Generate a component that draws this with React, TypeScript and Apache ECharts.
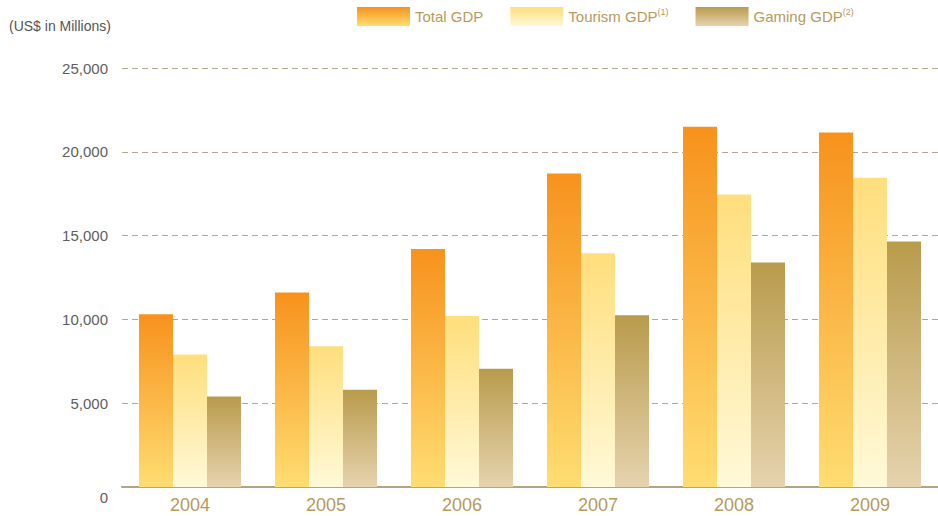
import React, { useEffect, useRef } from "react";
import * as echarts from "echarts";

const years = ["2004", "2005", "2006", "2007", "2008", "2009"];
const totalGDP = [10300, 11600, 14200, 18700, 21500, 21150];
const tourismGDP = [7900, 8400, 10200, 13950, 17450, 18450];
const gamingGDP = [5400, 5800, 7050, 10250, 13400, 14650];
const yTicks = [0, 5000, 10000, 15000, 20000, 25000];

const grad = (top: string, bottom: string) =>
  new echarts.graphic.LinearGradient(0, 0, 0, 1, [
    { offset: 0, color: top },
    { offset: 1, color: bottom },
  ]);

export default function App() {
  const ref = useRef<HTMLDivElement>(null);
  useEffect(() => {
    if (!ref.current) return;
    const chart = echarts.init(ref.current, null, { renderer: "svg" });
    const font = "'Liberation Sans', Arial, Helvetica, sans-serif";
    chart.setOption({
      animation: false,
      textStyle: { fontFamily: font },
      grid: { left: 122, right: 0, top: 68, bottom: 29, containLabel: false },
      title: {
        text: "(US$ in Millions)",
        left: 4,
        top: 14,
        textStyle: { fontSize: 14, fontWeight: "normal", color: "#555", fontFamily: font },
      },
      legend: {
        top: 0,
        left: 357,
        padding: [7, 0, 0, 0],
        itemWidth: 53,
        itemHeight: 19,
        itemGap: 27,
        icon: "rect",
        textStyle: {
          fontSize: 15,
          color: "#B89A5A",
          fontFamily: font,
          rich: {
            sup: { fontSize: 9, color: "#B89A5A", padding: [0, 0, 9, 0], fontFamily: font },
          },
        },
        formatter: (name: string) => {
          if (name === "Tourism GDP") return "Tourism GDP{sup|(1)}";
          if (name === "Gaming GDP") return "Gaming GDP{sup|(2)}";
          return name;
        },
        data: ["Total GDP", "Tourism GDP", "Gaming GDP"],
      },
      xAxis: {
        type: "category",
        data: years,
        axisLine: { lineStyle: { color: "#B3A583", width: 2 } },
        axisTick: { show: false },
        axisLabel: { fontSize: 18, color: "#B89A5A", margin: 9, fontFamily: font },
      },
      yAxis: {
        type: "value",
        min: yTicks[0],
        max: yTicks[yTicks.length - 1],
        interval: 5000,
        axisLine: { show: false },
        axisTick: { show: false },
        splitLine: {
          lineStyle: { color: "#B3A792", type: [6, 4], width: 1 },
        },
        axisLabel: {
          fontSize: 15,
          color: "#5E5E5E",
          margin: 14,
          fontFamily: font,
          formatter: (v: number) =>
            v === 0 ? "{z|0}" : v.toLocaleString("en-US"),
          rich: {
            z: { fontSize: 15, color: "#5E5E5E", padding: [20, 0, 0, 0], fontFamily: font },
          },
        },
      },
      series: [
        {
          name: "Total GDP",
          type: "bar",
          data: totalGDP,
          barWidth: 34,
          barGap: "0%",
          itemStyle: { color: grad("#F7921C", "#FFDD72") },
        },
        {
          name: "Tourism GDP",
          type: "bar",
          data: tourismGDP,
          barWidth: 34,
          barGap: "0%",
          itemStyle: { color: grad("#FFDE7C", "#FFF9D8") },
        },
        {
          name: "Gaming GDP",
          type: "bar",
          data: gamingGDP,
          barWidth: 34,
          barGap: "0%",
          itemStyle: { color: grad("#B99B4C", "#E6D3AE") },
        },
      ],
    });
    return () => chart.dispose();
  }, []);
  return (
    <div
      ref={ref}
      style={{ position: "absolute", left: 0, top: 0, width: 938, height: 516 }}
    />
  );
}
